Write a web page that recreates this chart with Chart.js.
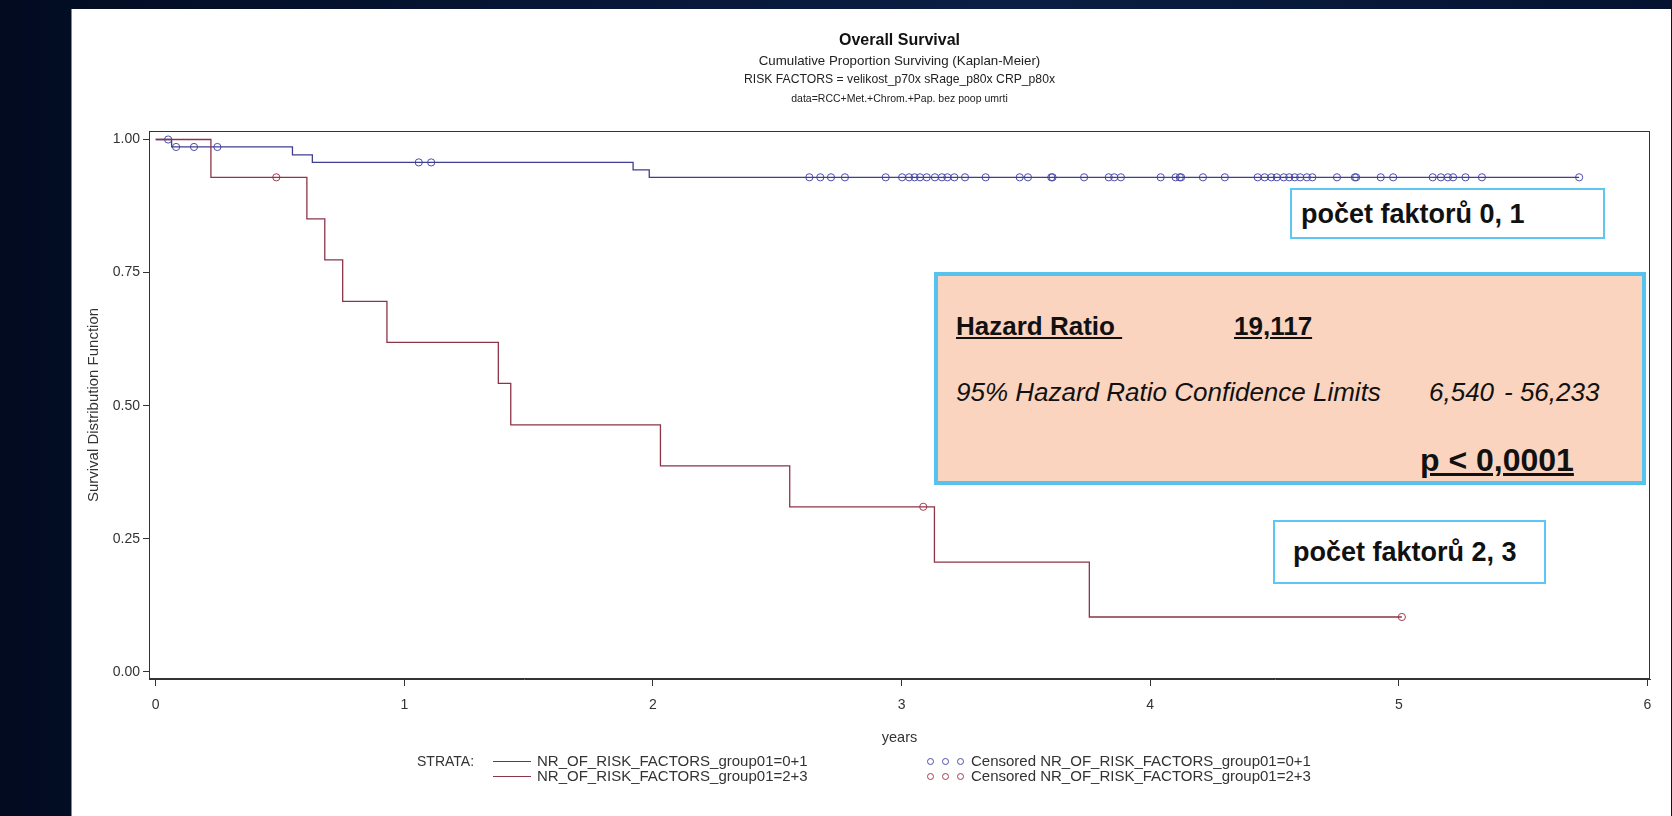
<!DOCTYPE html>
<html>
<head>
<meta charset="utf-8">
<script src="https://cdn.jsdelivr.net/npm/chart.js@4.4.0/dist/chart.umd.min.js"></script>
<style>
html,body{margin:0;padding:0;}
body{width:1672px;height:816px;overflow:hidden;position:relative;
  background:linear-gradient(90deg,#020b20 0%,#08183a 40%,#0a1f42 60%,#051230 100%);
  font-family:"Liberation Sans",Arial,sans-serif;}
#panel{position:absolute;left:71px;top:9px;width:1599px;height:807px;background:#fff;border-left:1px solid #888;}
#c{position:absolute;left:0;top:0;}
.abs{position:absolute;white-space:nowrap;}
.box{position:absolute;box-sizing:border-box;}
.lg{position:absolute;white-space:nowrap;font-size:15px;line-height:18px;color:#333;}
</style>
</head>
<body>
<div id="panel"></div>
<canvas id="c" width="1672" height="816"></canvas>

<div class="box" style="left:1290px;top:188px;width:315px;height:51px;border:2px solid #5ec6f2;background:#fff;">
  <div class="abs" style="left:9px;top:0;line-height:48px;font-weight:bold;font-size:27px;color:#111;">počet faktorů 0, 1</div>
</div>

<div class="box" style="left:934px;top:272px;width:712px;height:213px;border:4px solid #58c2ef;background:#fbd4bf;">
  <div class="abs" style="left:18px;top:35px;line-height:30px;font-weight:bold;font-size:26px;color:#111;text-decoration:underline;">Hazard Ratio&nbsp;</div>
  <div class="abs" style="left:296px;top:35px;line-height:30px;font-weight:bold;font-size:26px;color:#111;text-decoration:underline;">19,117</div>
  <div class="abs" style="left:18px;top:101px;line-height:30px;font-style:italic;font-size:26px;color:#111;">95% Hazard Ratio Confidence Limits</div>
  <div class="abs" style="left:491px;top:101px;line-height:30px;font-style:italic;font-size:26px;color:#111;">6,540</div>
  <div class="abs" style="left:566px;top:101px;line-height:30px;font-style:italic;font-size:26px;color:#111;">- 56,233</div>
  <div class="abs" style="left:482px;top:164px;line-height:40px;font-weight:bold;font-size:32px;color:#111;text-decoration:underline;">p &lt; 0,0001</div>
</div>

<div class="box" style="left:1273px;top:520px;width:273px;height:64px;border:2px solid #5ec6f2;background:#fff;">
  <div class="abs" style="left:18px;top:0;line-height:60px;font-weight:bold;font-size:27px;color:#111;">počet faktorů 2, 3</div>
</div>

<div id="legend"></div>

<script>
// ---------- data ----------
const xTicks = [0, 1, 2, 3, 4, 5, 6];
const yTicks = [0, 0.25, 0.5, 0.75, 1.0];

// group 0+1 (blue) Kaplan-Meier steps: time at which survival changes, survival after change
const blueTimes = [0, 0.064, 0.55, 0.63, 1.92, 1.985, 5.725];
const blueSurv  = [1.0, 0.986, 0.971, 0.957, 0.943, 0.929, 0.929];

// group 2+3 (red)
const redTimes = [0, 0.222, 0.608, 0.68, 0.752, 0.93, 1.378, 1.428, 2.03, 2.55, 3.132, 3.755, 5.012];
const redSurv  = [1.0, 0.929, 0.851, 0.774, 0.696, 0.619, 0.542, 0.464, 0.387, 0.310, 0.206, 0.103, 0.103];

// censored observation times
const blueCensored = [0.05, 0.082, 0.154, 0.248, 1.058, 1.108,
  2.629, 2.673, 2.716, 2.772, 2.936, 3.002, 3.030, 3.052, 3.074, 3.101, 3.134, 3.162, 3.184, 3.212,
  3.255, 3.338, 3.475, 3.508, 3.602, 3.607, 3.734, 3.833, 3.855, 3.882, 4.042, 4.102, 4.119, 4.124,
  4.212, 4.300, 4.432, 4.460, 4.487, 4.509, 4.537, 4.559, 4.581, 4.603, 4.630, 4.652, 4.751, 4.823,
  4.828, 4.927, 4.977, 5.136, 5.169, 5.197, 5.218, 5.268, 5.334, 5.725];
const redCensored = [0.485, 3.087, 5.012];

const titleText = 'Overall Survival';
const subtitleLines = ['Cumulative Proportion Surviving (Kaplan-Meier)',
                       'RISK FACTORS = velikost_p70x sRage_p80x CRP_p80x',
                       'data=RCC+Met.+Chrom.+Pap. bez poop umrti'];
const seriesLabels = ['NR_OF_RISK_FACTORS_group01=0+1', 'NR_OF_RISK_FACTORS_group01=2+3'];
const censLabels = ['Censored NR_OF_RISK_FACTORS_group01=0+1', 'Censored NR_OF_RISK_FACTORS_group01=2+3'];

// ---------- styling ----------
const F = '"Liberation Sans", Arial, sans-serif';
const BLUE = '#3f3f90';
const RED = '#8c3548';
const BLUE_C = '#4d4dab';
const RED_C = '#a33c50';
const AX = '#333333';
const subtitleSizes = [13.3, 12.2, 10.5];
const subtitleY = [61, 80, 99];

function survAt(times, surv, t) {
  let s = surv[0];
  for (let i = 0; i < times.length; i++) if (times[i] <= t) s = surv[i];
  return s;
}
const pts = (times, surv) => times.map((t, i) => ({x: t, y: surv[i]}));

const framePlugin = {
  id: 'frame',
  afterDatasetsDraw(chart) {
    const {ctx, chartArea: a} = chart;
    ctx.save();
    ctx.strokeStyle = AX;
    ctx.lineWidth = 1;
    ctx.strokeRect(Math.round(a.left) + 0.5, Math.round(a.top) + 0.5,
      Math.round(a.right - a.left) - 1, Math.round(a.bottom - a.top) - 1);
    ctx.restore();
  }
};

// subtitle lines with individual sizes, centred like the title
const subtitlePlugin = {
  id: 'subLines',
  afterDraw(chart) {
    const {ctx, chartArea: a} = chart;
    const cx = (a.left + a.right) / 2;
    ctx.save();
    ctx.fillStyle = '#222';
    ctx.textAlign = 'center';
    ctx.textBaseline = 'middle';
    subtitleLines.forEach((s, i) => {
      ctx.font = `${subtitleSizes[i]}px ${F}`;
      ctx.fillText(s, cx, subtitleY[i]);
    });
    ctx.restore();
  }
};

const chart = new Chart(document.getElementById('c').getContext('2d'), {
  type: 'scatter',
  data: {
    datasets: [
      {type: 'line', label: seriesLabels[1], data: pts(redTimes, redSurv), stepped: 'before',
       borderColor: RED, borderWidth: 1.3, pointRadius: 0, fill: false},
      {type: 'line', label: seriesLabels[0], data: pts(blueTimes, blueSurv), stepped: 'before',
       borderColor: BLUE, borderWidth: 1.3, pointRadius: 0, fill: false},
      {type: 'scatter', label: censLabels[0],
       data: blueCensored.map(t => ({x: t, y: survAt(blueTimes, blueSurv, t)})),
       pointStyle: 'circle', pointRadius: 3.6, borderWidth: 1, borderColor: BLUE_C, backgroundColor: 'rgba(0,0,0,0)'},
      {type: 'scatter', label: censLabels[1],
       data: redCensored.map(t => ({x: t, y: survAt(redTimes, redSurv, t)})),
       pointStyle: 'circle', pointRadius: 3.6, borderWidth: 1, borderColor: RED_C, backgroundColor: 'rgba(0,0,0,0)'}
    ]
  },
  options: {
    responsive: false,
    animation: false,
    devicePixelRatio: 1,
    events: [],
    layout: {padding: {left: 80, right: 22, top: 0, bottom: 67}},
    plugins: {
      legend: {display: false},
      tooltip: {enabled: false},
      title: {display: true, text: titleText, fullSize: false, color: '#111',
        font: {family: F, size: 16, weight: 'bold', lineHeight: 1.2}, padding: {top: 31, bottom: 80.8}}
    },
    scales: {
      x: {
        type: 'linear', min: -0.027, max: 6.01,
        afterBuildTicks: s => { s.ticks = xTicks.map(v => ({value: v})); },
        afterFit: s => { s.height = 70; },
        grid: {display: true, drawOnChartArea: false, drawTicks: true, tickLength: 7, tickColor: AX, lineWidth: 1},
        border: {display: true, color: AX, width: 1},
        ticks: {font: {family: F, size: 14}, color: '#333', padding: 11, maxRotation: 0, autoSkip: false,
          callback: v => String(v)},
        title: {display: true, text: 'years', color: '#333', font: {family: F, size: 14.5}, padding: {top: 0, bottom: 2}}
      },
      y: {
        type: 'linear', min: -0.0135, max: 1.016,
        afterBuildTicks: s => { s.ticks = yTicks.map(v => ({value: v})); },
        afterFit: s => { s.width = 69; },
        grid: {display: true, drawOnChartArea: false, drawTicks: true, tickLength: 6, tickColor: AX, lineWidth: 1},
        border: {display: true, color: AX, width: 1},
        ticks: {font: {family: F, size: 14}, color: '#333', padding: 3, autoSkip: false,
          callback: v => Number(v).toFixed(2)},
        title: {display: true, text: 'Survival Distribution Function', color: '#333',
          font: {family: F, size: 15}, padding: {top: 5, bottom: 0}}
      }
    }
  },
  plugins: [framePlugin, subtitlePlugin]
});

// ---------- legend (built from dataset colours/labels) ----------
(function buildLegend() {
  const lg = document.getElementById('legend');
  const rows = [
    {y: 761, line: BLUE, circ: BLUE_C, label: seriesLabels[0], clabel: censLabels[0]},
    {y: 776, line: RED, circ: RED_C, label: seriesLabels[1], clabel: censLabels[1]}
  ];
  const strata = document.createElement('div');
  strata.className = 'lg';
  strata.style.left = '417px';
  strata.style.fontSize = '14px';
  strata.style.top = (761 - 9) + 'px';
  strata.textContent = 'STRATA:';
  lg.appendChild(strata);
  rows.forEach(r => {
    const ln = document.createElement('div');
    ln.style.cssText = `position:absolute;left:493px;top:${r.y}px;width:38px;height:0;border-top:1px solid ${r.line};`;
    lg.appendChild(ln);
    const t = document.createElement('div');
    t.className = 'lg';
    t.style.left = '537px';
    t.style.top = (r.y - 9) + 'px';
    t.textContent = r.label;
    lg.appendChild(t);
    [930, 945, 960].forEach(cx => {
      const c = document.createElement('div');
      c.style.cssText = `position:absolute;left:${cx - 3.5}px;top:${r.y - 3.5}px;width:5px;height:5px;border:1px solid ${r.circ};border-radius:50%;`;
      lg.appendChild(c);
    });
    const t2 = document.createElement('div');
    t2.className = 'lg';
    t2.style.left = '971px';
    t2.style.top = (r.y - 9) + 'px';
    t2.textContent = r.clabel;
    lg.appendChild(t2);
  });
})();
</script>
</body>
</html>
